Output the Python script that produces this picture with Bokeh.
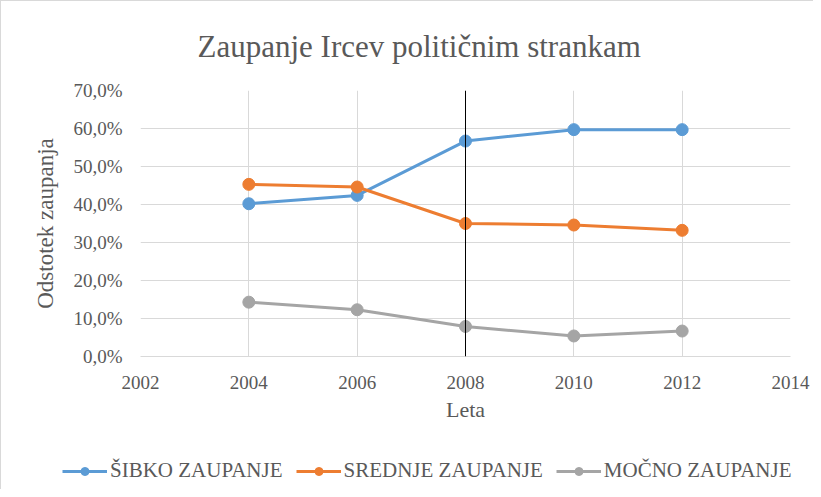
from bokeh.plotting import figure
from bokeh.models import Span, Legend, LegendItem, FixedTicker, Range1d, Title
from bokeh.layouts import column
from bokeh.embed import file_html
from bokeh.resources import INLINE

years = [2004, 2006, 2008, 2010, 2012]
sibko = [40.2, 42.4, 56.7, 59.7, 59.7]
srednje = [45.3, 44.6, 35.0, 34.6, 33.2]
mocno = [14.3, 12.3, 7.9, 5.4, 6.7]
series_names = ["ŠIBKO ZAUPANJE", "SREDNJE ZAUPANJE", "MOČNO ZAUPANJE"]
colors = ["#5B9BD5", "#ED7D31", "#A5A5A5"]
x_ticks = [2002, 2004, 2006, 2008, 2010, 2012, 2014]
y_ticks = [0, 10, 20, 30, 40, 50, 60, 70]
y_labels = {t: f"{t},0%" for t in y_ticks}
marker_year = 2008

FONT = "Liberation Serif"
TXT = "#595959"
GRID = "#d9d9d9"

p = figure(width=812, height=440, output_backend="svg", toolbar_location=None,
           x_range=Range1d(2002, 2014), y_range=Range1d(0, 70),
           min_border_left=139, min_border_right=23, min_border_top=89, min_border_bottom=85)

t = Title(text="Zaupanje  Ircev  političnim  strankam", text_font=FONT, text_font_size="31px",
          text_color=TXT, text_font_style="normal", align="left", offset=57, standoff=51,
          vertical_align="middle")
p.add_layout(t, "above")

p.outline_line_color = None
p.background_fill_color = "white"

p.xaxis.ticker = FixedTicker(ticks=x_ticks)
p.yaxis.ticker = FixedTicker(ticks=y_ticks)
p.yaxis.major_label_overrides = y_labels

for ax in (p.xaxis, p.yaxis):
    ax.major_tick_line_color = None
    ax.minor_tick_line_color = None
    ax.major_tick_out = 0
    ax.major_tick_in = 0
    ax.major_label_text_font = FONT
    ax.major_label_text_font_size = "19px"
    ax.major_label_text_color = TXT
    ax.axis_label_text_font = FONT
    ax.axis_label_text_color = TXT
    ax.axis_label_text_font_style = "normal"

p.xaxis.axis_label_text_font_size = "22px"
p.yaxis.axis_label_text_font_size = "23px"
p.xaxis.axis_line_color = GRID
p.yaxis.axis_line_color = None
p.xaxis.axis_label = "Leta"
p.yaxis.axis_label = "Odstotek zaupanja"
p.xaxis.major_label_standoff = 19
p.xaxis.axis_label_standoff = 5
p.yaxis.major_label_standoff = 18
p.yaxis.axis_label_standoff = 12

p.grid.grid_line_color = GRID
p.grid.grid_line_width = 1

for name, vals, c in zip(series_names, [sibko, srednje, mocno], colors):
    p.line(years, vals, line_color=c, line_width=3)
    p.scatter(years, vals, size=12, fill_color=c, line_color=c, marker="circle")

p.add_layout(Span(location=marker_year, dimension="height", line_color="black", line_width=1))

# legend strip below the chart (same series, drawn outside its view so only the legend shows)
lg = figure(width=812, height=48, output_backend="svg", toolbar_location=None,
            x_range=Range1d(0, 1), y_range=Range1d(0, 1),
            x_axis_location=None, y_axis_location=None,
            min_border_left=0, min_border_right=0, min_border_top=0, min_border_bottom=0)
lg.outline_line_color = None
lg.grid.visible = False
items = []
for name, vals, c in zip(series_names, [sibko, srednje, mocno], colors):
    r1 = lg.line(years, vals, line_color=c, line_width=3)
    r2 = lg.scatter(years, vals, size=12, fill_color=c, line_color=c, marker="circle")
    items.append(LegendItem(label=name, renderers=[r1, r2]))

legend = Legend(items=items, orientation="horizontal", location=(61, 6),
                label_text_font=FONT, label_text_font_size="21px", label_text_color=TXT,
                glyph_width=45, glyph_height=20, label_standoff=3, spacing=13,
                padding=5, margin=0, border_line_color=None, background_fill_alpha=0)
lg.add_layout(legend, "center")

layout = column(p, column(lg, spacing=0), spacing=0)
layout.styles = {"border-left": "1px solid #d9d9d9", "border-top": "1px solid #d9d9d9"}

open("out.html", "w").write(file_html(layout, INLINE))
